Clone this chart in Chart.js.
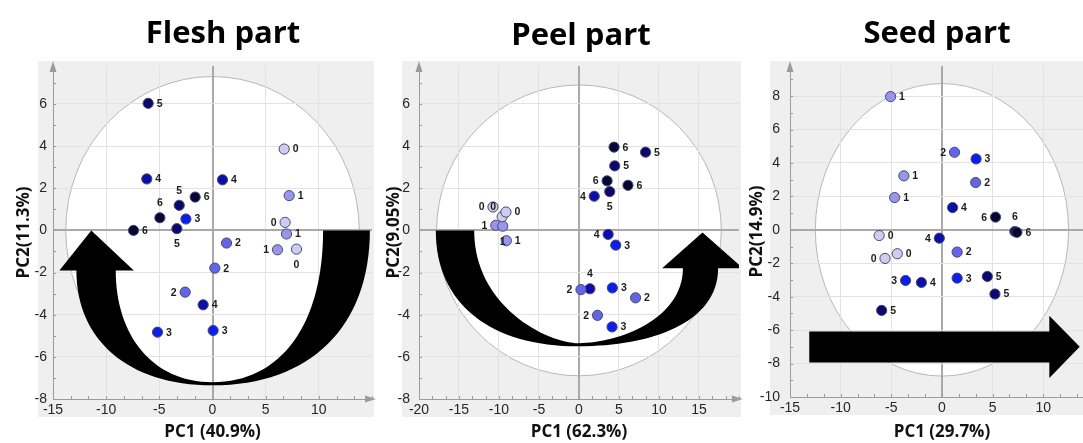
<!DOCTYPE html>
<html>
<head>
<meta charset="utf-8">
<script src="https://cdn.jsdelivr.net/npm/chart.js@4.4.0/dist/chart.umd.min.js"></script>
<style>
  html, body { margin: 0; padding: 0; background: #fff; width: 1083px; height: 443px; overflow: hidden; }
  canvas { position: absolute; top: 0; }
</style>
</head>
<body>
<canvas id="flesh" width="380" height="443" style="left:0px"></canvas>
<canvas id="peel" width="370" height="443" style="left:375px"></canvas>
<canvas id="seed" width="363" height="443" style="left:737px"></canvas>
<script>
// groupes 0..6 (du plus clair au plus foncé)
const groupNames = ['0', '1', '2', '3', '4', '5', '6'];
const groupColors = ['#cdcdf2', '#9696ef', '#6464ea', '#0a1ef0', '#0a0fab', '#08086e', '#050537'];

// Flesh part
const fleshPC1 = [6.74, 6.83, 7.90, 7.21, 6.96, 6.11, 1.32, 0.22, -2.57, -2.50, -5.17, 0.06, -6.18, 0.94, -0.88, -6.05, -3.13, -3.35, -1.63, -4.95, -7.43];
const fleshPC2 = [3.86, 0.38, -0.89, 1.65, -0.17, -0.92, -0.60, -1.79, -2.93, 0.54, -4.83, -4.75, 2.44, 2.40, -3.53, 6.03, 1.19, 0.08, 1.58, 0.60, 0.00];
const fleshGroup = [0, 0, 0, 1, 1, 1, 2, 2, 2, 3, 3, 3, 4, 4, 4, 5, 5, 5, 6, 6, 6];
const fleshLabelAt = ['r', 'l', 'b', 'r', 'r', 'l', 'r', 'r', 'l', 'r', 'r', 'r', 'r', 'r', 'r', 'r', 't', 'b', 'r', 't', 'r'];
const fleshXTicks = [-15, -10, -5, 0, 5, 10];
const fleshYTicks = [-8, -6, -4, -2, 0, 2, 4, 6];

// Peel part
const peelPC1 = [-9.60, -10.75, -9.13, -10.40, -9.53, -9.08, 0.25, 7.08, 2.32, 4.60, 4.18, 4.14, 1.91, 3.65, 1.37, 8.33, 4.47, 3.85, 4.39, 3.52, 6.13];
const peelPC2 = [0.65, 1.11, 0.87, 0.24, 0.20, -0.49, -2.81, -3.20, -4.03, -0.70, -2.73, -4.58, 1.62, -0.19, -2.77, 3.71, 3.06, 1.84, 3.95, 2.35, 2.14];
const peelGroup = [0, 0, 0, 1, 1, 1, 2, 2, 2, 3, 3, 3, 4, 4, 4, 5, 5, 5, 6, 6, 6];
const peelLabelAt = ['tl', 'l', 'r', 'l', 'b', 'r', 'l', 'r', 'l', 'r', 'r', 'r', 'l', 'l', 't', 'r', 'r', 'b', 'r', 'l', 'r'];
const peelXTicks = [-20, -15, -10, -5, 0, 5, 10, 15];
const peelYTicks = [-8, -6, -4, -2, 0, 2, 4, 6];

// Seed part
const seedPC1 = [-6.20, -4.41, -5.62, -5.07, -3.76, -4.67, 1.24, 3.33, 1.50, 3.37, -3.59, 1.50, 1.05, -0.26, -2.03, 4.48, 5.23, -5.95, 5.29, 7.20, 7.40];
const seedPC2 = [-0.34, -1.43, -1.71, 7.97, 3.23, 1.93, 4.64, 2.83, -1.33, 4.24, -3.03, -2.89, 1.33, -0.50, -3.15, -2.79, -3.84, -4.82, 0.76, -0.10, -0.15];
const seedGroup = [0, 0, 0, 1, 1, 1, 2, 2, 2, 3, 3, 3, 4, 4, 4, 5, 5, 5, 6, 6, 6];
const seedLabelAt = ['r', 'r', 'l', 'r', 'r', 'r', 'l', 'r', 'r', 'r', 'l', 'r', 'r', 'l', 'r', 'r', 'r', 'r', 'l', 't', 'r'];
const seedXTicks = [-15, -10, -5, 0, 5, 10];
const seedYTicks = [-10, -8, -6, -4, -2, 0, 2, 4, 6, 8];

const TICK_FONT = { family: '"Liberation Sans", Arial, sans-serif', size: 14 };
const TITLE_FONT = { family: '"Open Sans", sans-serif', size: 17, weight: 'bold' };

// Le dessin du fond, de l'ellipse, de la grosse flèche et des étiquettes
function makeDecor(cfg) {
    return {
        id: 'decor',
        beforeDraw(chart) {
            const { ctx, chartArea: a, scales: { x, y } } = chart;
            ctx.save();
            ctx.fillStyle = '#efefef';
            ctx.fillRect(a.left - cfg.bgLeft, a.top - 5, a.right - a.left + cfg.bgLeft + 2, a.bottom - a.top + 23);
            ctx.beginPath();
            ctx.rect(a.left, a.top, a.width, a.height);
            ctx.clip();
            const cx = x.getPixelForValue(0), cy = y.getPixelForValue(0);
            const rx = x.getPixelForValue(cfg.ellipse[0]) - cx;
            const ry = cy - y.getPixelForValue(cfg.ellipse[1]);
            ctx.beginPath();
            ctx.ellipse(cx, cy, rx, ry, 0, 0, Math.PI * 2);
            ctx.fillStyle = '#fff';
            ctx.fill();
            ctx.strokeStyle = '#b8b8b8';
            ctx.lineWidth = 1;
            ctx.stroke();
            ctx.restore();
        },
        beforeDatasetsDraw(chart) {
            const { ctx, chartArea: a, scales: { x, y } } = chart;
            const X = v => x.getPixelForValue(v), Y = v => y.getPixelForValue(v);

            // petites graduations
            ctx.save();
            ctx.strokeStyle = '#9c9c9c';
            ctx.lineWidth = 1;
            ctx.beginPath();
            for (let v = Math.ceil(cfg.yMin); v <= cfg.yMax; v++) {
                ctx.moveTo(a.left, Math.round(Y(v)) + 0.5);
                ctx.lineTo(a.left + 3, Math.round(Y(v)) + 0.5);
            }
            for (let k = Math.ceil(cfg.xMin * 3 / 5); k <= Math.floor(cfg.xMax * 3 / 5); k++) {
                const px = Math.round(X(k * 5 / 3)) + 0.5;
                ctx.moveTo(px, a.bottom);
                ctx.lineTo(px, a.bottom - 3);
            }
            ctx.stroke();

            // flèches des axes
            ctx.fillStyle = '#9c9c9c';
            ctx.beginPath();
            ctx.moveTo(a.left, a.top - 5);
            ctx.lineTo(a.left - 3.5, a.top + 6);
            ctx.lineTo(a.left + 3.5, a.top + 6);
            ctx.fill();
            ctx.beginPath();
            ctx.moveTo(a.right + 4, a.bottom);
            ctx.lineTo(a.right - 7, a.bottom - 3.5);
            ctx.lineTo(a.right - 7, a.bottom + 3.5);
            ctx.fill();

            // grosse flèche noire
            ctx.beginPath();
            ctx.rect(a.left, a.top, a.width, a.height);
            ctx.clip();
            ctx.beginPath();
            cfg.arrow.forEach(s => {
                if (s[0] === 'M') ctx.moveTo(X(s[1]), Y(s[2]));
                else if (s[0] === 'L') ctx.lineTo(X(s[1]), Y(s[2]));
                else if (s[0] === 'C') ctx.bezierCurveTo(X(s[1]), Y(s[2]), X(s[3]), Y(s[4]), X(s[5]), Y(s[6]));
                else ctx.closePath();
            });
            ctx.fillStyle = '#000';
            ctx.fill();
            ctx.restore();
        },
        afterDatasetsDraw(chart) {
            const ctx = chart.ctx;
            ctx.save();
            ctx.font = 'bold 10.5px "Liberation Sans", Arial, sans-serif';
            ctx.fillStyle = '#1c1c1c';
            ctx.textBaseline = 'middle';
            chart.data.datasets.forEach((ds, di) => {
                chart.getDatasetMeta(di).data.forEach((el, i) => {
                    const at = ds.data[i].at;
                    let tx = el.x, ty = el.y;
                    ctx.textAlign = 'center';
                    if (at === 'r') { ctx.textAlign = 'left'; tx += 8.5; }
                    else if (at === 'l') { ctx.textAlign = 'right'; tx -= 8.5; }
                    else if (at === 't') ty -= 15;
                    else if (at === 'b') ty += 15;
                    else if (at === 'tl') { tx -= 9; ty -= 10; }
                    ctx.fillText(ds.label, tx, ty + 0.5);
                });
            });
            ctx.restore();
        },
        afterDraw(chart) {
            const ctx = chart.ctx;
            ctx.save();
            ctx.font = 'bold 31px "Open Sans", sans-serif';
            ctx.fillStyle = '#000';
            ctx.textAlign = 'center';
            ctx.textBaseline = 'alphabetic';
            ctx.fillText(cfg.title, cfg.titleX, cfg.titleY);
            ctx.restore();
        }
    };
}

function makePanel(id, cfg) {
    const datasets = groupNames.map((name, g) => ({
        label: name,
        data: cfg.pc1.map((v, i) => ({ x: v, y: cfg.pc2[i], at: cfg.labelAt[i] })).filter((p, i) => cfg.group[i] === g),
        backgroundColor: groupColors[g],
        borderColor: '#4a4a66',
        borderWidth: 1,
        pointRadius: 5.1,
        pointHoverRadius: 5.1
    }));

    const gridColor = c => (c.tick && c.tick.value === 0 ? '#a9a9a9' : '#e2e2e2');
    const gridWidth = c => (c.tick && c.tick.value === 0 ? 2 : 1);

    new Chart(document.getElementById(id), {
        type: 'scatter',
        data: { datasets },
        options: {
            responsive: false,
            animation: false,
            events: [],
            layout: { padding: { left: 0, right: cfg.padRight, top: cfg.top, bottom: 0 } },
            plugins: { legend: { display: false }, tooltip: { enabled: false } },
            scales: {
                x: {
                    type: 'linear',
                    min: cfg.xMin,
                    max: cfg.xMax,
                    afterBuildTicks: s => { s.ticks = cfg.xTicks.map(v => ({ value: v })); },
                    afterFit: s => { s.height = cfg.xHeight; },
                    grid: { color: gridColor, lineWidth: gridWidth, drawTicks: false },
                    border: { display: true, color: '#9c9c9c', width: 1 },
                    ticks: { autoSkip: false, maxRotation: 0, padding: 3, color: '#262626', font: TICK_FONT },
                    title: { display: true, text: cfg.xTitle, color: '#111', font: TITLE_FONT, padding: { top: 0, bottom: 1 } }
                },
                y: {
                    type: 'linear',
                    min: cfg.yMin,
                    max: cfg.yMax,
                    afterBuildTicks: s => { s.ticks = cfg.yTicks.map(v => ({ value: v })); },
                    afterFit: s => { s.width = cfg.yWidth; },
                    grid: { color: gridColor, lineWidth: gridWidth, drawTicks: false },
                    border: { display: true, color: '#9c9c9c', width: 1 },
                    ticks: { autoSkip: false, padding: cfg.tickPad, color: '#262626', font: TICK_FONT },
                    title: { display: true, text: cfg.yTitle, color: '#111', font: TITLE_FONT, padding: { top: cfg.yTitlePad, bottom: 0 } }
                }
            }
        },
        plugins: [makeDecor(cfg)]
    });
}

makePanel('flesh', {
    title: 'Flesh part', titleX: 223, titleY: 43,
    xTitle: 'PC1 (40.9%)', yTitle: 'PC2(11.3%)',
    pc1: fleshPC1, pc2: fleshPC2, group: fleshGroup, labelAt: fleshLabelAt,
    xTicks: fleshXTicks, yTicks: fleshYTicks,
    xMin: -15, xMax: 15, yMin: -8, yMax: 7.8,
    yWidth: 53, xHeight: 44, top: 66, padRight: 8, tickPad: 6, yTitlePad: 14, bgLeft: 15,
    ellipse: [13.8, 7.3],
    arrow: [['M', 10.4, 0], ['L', 14.8, 0], ['C', 14.8, -4.56, 9.2, -7.35, 0, -7.35],
        ['C', -7.9, -7.35, -12.8, -5.2, -12.8, -1.9], ['L', -14.4, -1.9], ['L', -11.4, 0],
        ['L', -7.4, -1.9], ['L', -9.1, -1.9], ['C', -9.1, -5, -5.6, -7.2, 0, -7.2],
        ['C', 6.4, -7.2, 10.4, -4.5, 10.4, 0], ['Z']]
});

makePanel('peel', {
    title: 'Peel part', titleX: 206, titleY: 45,
    xTitle: 'PC1 (62.3%)', yTitle: 'PC2(9.05%)',
    pc1: peelPC1, pc2: peelPC2, group: peelGroup, labelAt: peelLabelAt,
    xTicks: peelXTicks, yTicks: peelYTicks,
    xMin: -20, xMax: 20, yMin: -8, yMax: 7.8,
    yWidth: 44, xHeight: 44, top: 66, padRight: 5, tickPad: 9, yTitlePad: 9, bgLeft: 17,
    ellipse: [17.8, 6.9],
    arrow: [['M', -17.9, 0], ['L', -13.1, 0], ['C', -13.1, -3.6, -4, -5.35, 0, -5.35],
        ['C', 5, -5.35, 13, -4.2, 13, -1.8], ['L', 10.4, -1.8], ['L', 15.45, -0.1],
        ['L', 20.5, -1.8], ['L', 17.4, -1.8], ['C', 17.4, -4.4, 9, -5.5, 0, -5.5],
        ['C', -11, -5.5, -17.9, -3.5, -17.9, 0], ['Z']]
});

makePanel('seed', {
    title: 'Seed part', titleX: 200, titleY: 43,
    xTitle: 'PC1 (29.7%)', yTitle: 'PC2(14.9%)',
    pc1: seedPC1, pc2: seedPC2, group: seedGroup, labelAt: seedLabelAt,
    xTicks: seedXTicks, yTicks: seedYTicks,
    xMin: -15, xMax: 15, yMin: -10, yMax: 9.8,
    yWidth: 53, xHeight: 46, top: 66, padRight: 4, tickPad: 10, yTitlePad: 10, bgLeft: 20,
    ellipse: [12.5, 8.75],
    arrow: [['M', -13.1, -6.08], ['L', 10.6, -6.08], ['L', 10.6, -5.14], ['L', 13.6, -7.0],
        ['L', 10.6, -8.87], ['L', 10.6, -7.93], ['L', -13.1, -7.93], ['Z']]
});
</script>
</body>
</html>
